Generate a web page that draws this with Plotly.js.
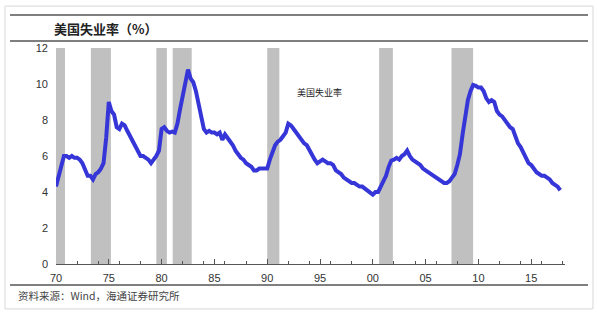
<!DOCTYPE html>
<html>
<head>
<meta charset="utf-8">
<script src="https://cdn.plot.ly/plotly-3.0.1.min.js"></script>
<style>html,body{margin:0;padding:0;background:#fff;}#chart{width:597px;height:315px;}</style>
</head>
<body>
<div id="chart"></div>
<script>
// US unemployment rate (%), quarterly readings from 1970 Q1
const startYear = 1970;
const rate = [
  4.3, 4.9, 5.5, 6.0,   // 1970
  6.0, 5.9, 6.0, 5.9,   // 1971
  5.9, 5.8, 5.6, 5.2,   // 1972
  4.9, 4.9, 4.7, 5.0,   // 1973
  5.1, 5.3, 5.6, 7.0,   // 1974
  9.0, 8.5, 8.3, 7.6,   // 1975
  7.5, 7.8, 7.7, 7.4,   // 1976
  7.1, 6.9, 6.5, 6.2,   // 1977
  6.0, 6.0, 5.9, 5.8,   // 1978
  5.6, 5.8, 6.0, 6.3,   // 1979
  7.5, 7.6, 7.4, 7.3,   // 1980
  7.35, 7.3, 7.8, 8.6,  // 1981
  9.3, 9.9, 10.8, 10.3, // 1982
  10.1, 9.6, 8.9, 8.0,  // 1983
  7.5, 7.3, 7.4, 7.3,   // 1984
  7.3, 7.2, 7.3, 6.9,   // 1985
  7.2, 7.0, 6.8, 6.6,   // 1986
  6.3, 6.1, 5.9, 5.8,   // 1987
  5.6, 5.5, 5.4, 5.2,   // 1988
  5.2, 5.3, 5.3, 5.3,   // 1989
  5.3, 5.8, 6.2, 6.6,   // 1990
  6.8, 6.9, 7.1, 7.3,   // 1991
  7.8, 7.7, 7.5, 7.3,   // 1992
  7.1, 6.9, 6.7, 6.6,   // 1993
  6.3, 6.1, 5.8, 5.6,   // 1994
  5.7, 5.8, 5.7, 5.6,   // 1995
  5.6, 5.5, 5.2, 5.1,   // 1996
  5.0, 4.8, 4.7, 4.6,   // 1997
  4.5, 4.5, 4.4, 4.3,   // 1998
  4.3, 4.2, 4.1, 4.0,   // 1999
  3.85, 4.0, 4.0, 4.3,  // 2000
  4.6, 4.9, 5.4, 5.75,  // 2001
  5.8, 5.9, 5.8, 6.0,   // 2002
  6.1, 6.3, 6.0, 5.8,   // 2003
  5.7, 5.6, 5.5, 5.3,   // 2004
  5.2, 5.1, 5.0, 4.9,   // 2005
  4.8, 4.7, 4.6, 4.5,   // 2006
  4.5, 4.6, 4.8, 5.0,   // 2007
  5.5, 6.1, 7.2, 8.3,   // 2008
  9.1, 9.6, 9.95, 9.9,  // 2009
  9.8, 9.8, 9.6, 9.2,   // 2010
  9.0, 9.1, 9.0, 8.5,   // 2011
  8.3, 8.2, 8.0, 7.8,   // 2012
  7.6, 7.5, 7.1, 6.7,   // 2013
  6.5, 6.2, 5.9, 5.6,   // 2014
  5.5, 5.3, 5.1, 5.0,   // 2015
  4.9, 4.9, 4.8, 4.7,   // 2016
  4.5, 4.4, 4.3, 4.1    // 2017
];
// Recession periods (shaded), decimal years
const recStart = [1970.0, 1973.3, 1979.5, 1981.05, 1990.0, 2000.6, 2007.45];
const recEnd   = [1970.85, 1975.2, 1980.5, 1982.85, 1991.15, 2001.9, 2009.5];
const xTickVals = [1970, 1975, 1980, 1985, 1990, 1995, 2000, 2005, 2010, 2015];
const xTickText = ['70', '75', '80', '85', '90', '95', '00', '05', '10', '15'];
const yTickVals = [0, 2, 4, 6, 8, 10, 12];

const xs = rate.map((v, i) => startYear + i / 4);

const shapes = [];
for (let i = 0; i < recStart.length; i++) {
  shapes.push({type: 'rect', xref: 'x', yref: 'y', x0: recStart[i], x1: recEnd[i], y0: 0, y1: 12,
    fillcolor: '#c0c0c0', line: {width: 0}, layer: 'below'});
}
// frame lines
shapes.push({type: 'line', xref: 'paper', yref: 'paper', x0: -0.0904, x1: 1.0452, y0: 1.1528, y1: 1.1528, line: {color: '#555', width: 1.5}});
shapes.push({type: 'line', xref: 'paper', yref: 'paper', x0: -0.0904, x1: 1.0452, y0: 1.0324, y1: 1.0324, line: {color: '#555', width: 1.5}});
shapes.push({type: 'line', xref: 'paper', yref: 'paper', x0: -0.0904, x1: 1.0452, y0: -0.0972, y1: -0.0972, line: {color: '#555', width: 1.5}});
shapes.push({type: 'rect', xref: 'paper', yref: 'paper', x0: -0.1002, x1: 1.055, y0: -0.208, y1: 1.194, line: {color: '#d8d8d8', width: 1}, fillcolor: 'rgba(0,0,0,0)'});

const trace = {
  x: xs, y: rate, type: 'scatter', mode: 'lines',
  line: {color: '#3636d8', width: 4}, hoverinfo: 'skip'
};

const layout = {
  width: 597, height: 315,
  margin: {l: 56, r: 32, t: 48, b: 51},
  paper_bgcolor: '#fff', plot_bgcolor: '#fff',
  showlegend: false,
  font: {family: 'Liberation Sans, Arial, sans-serif', size: 11, color: '#333'},
  xaxis: {
    range: [1970, 2018.2], showgrid: false, zeroline: false,
    showline: true, linecolor: '#555', linewidth: 1,
    tickmode: 'array', tickvals: xTickVals, ticktext: xTickText,
    ticks: 'inside', ticklen: 5, tickcolor: '#555', tickwidth: 1,
    ticklabelstandoff: 4,
    tickfont: {size: 11, color: '#333'},
    minor: {tickmode: 'linear', tick0: 1970, dtick: 2, ticks: 'inside', ticklen: 3, tickcolor: '#555', showgrid: false}
  },
  yaxis: {
    range: [0, 12], showgrid: false, zeroline: false, showline: false,
    tickmode: 'array', tickvals: yTickVals, ticks: '', ticklabelstandoff: 7,
    tickfont: {size: 11, color: '#333'}
  },
  shapes: shapes,
  annotations: [
    {xref: 'paper', yref: 'paper', x: -0.008, y: 1.088, xanchor: 'left', yanchor: 'middle', showarrow: false,
     text: '<b>美国失业率（%）</b>', font: {family: 'Noto Sans CJK SC', size: 13, color: '#222'}},
    {xref: 'paper', yref: 'paper', x: 0.469, y: 0.792, xanchor: 'left', yanchor: 'middle', showarrow: false,
     text: '美国失业率', font: {family: 'Noto Sans CJK SC', size: 9, color: '#222'}},
    {xref: 'paper', yref: 'paper', x: -0.0786, y: -0.148, xanchor: 'left', yanchor: 'middle', showarrow: false,
     text: '资料来源：Wind，海通证券研究所', font: {family: 'Noto Sans CJK SC', size: 10.5, color: '#444'}}
  ]
};

Plotly.newPlot('chart', [trace], layout, {staticPlot: true, displayModeBar: false});
</script>
</body>
</html>
